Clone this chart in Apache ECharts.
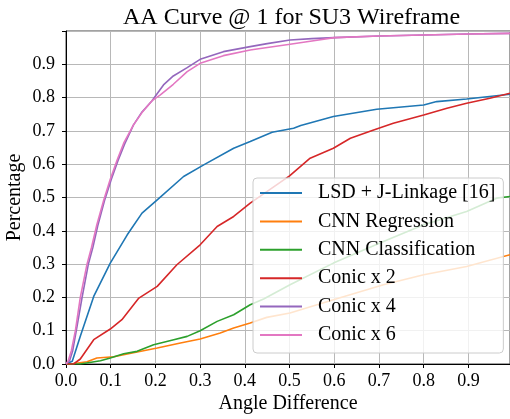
<!DOCTYPE html>
<html>
<head>
<meta charset="utf-8">
<script src="https://cdn.jsdelivr.net/npm/echarts@6/dist/echarts.min.js"></script>
<style>
html, body { margin: 0; padding: 0; background: #fff; }
#chart { width: 510px; height: 419px; }
</style>
</head>
<body>
<div id="chart"></div>
<script>
// curves, [angle difference, percentage]
const lsd = [[0, 0], [0.014, 0.008], [0.032, 0.083], [0.062, 0.203], [0.099, 0.303], [0.137, 0.388],
  [0.17, 0.453], [0.204, 0.493], [0.263, 0.563], [0.308, 0.598], [0.375, 0.648], [0.412, 0.668],
  [0.461, 0.696], [0.509, 0.708], [0.525, 0.716], [0.598, 0.743], [0.695, 0.765], [0.8, 0.778],
  [0.829, 0.788], [0.896, 0.796], [0.993, 0.81]]
const cnnReg = [[0, 0], [0.01, 0], [0.047, 0.007], [0.069, 0.018], [0.107, 0.022], [0.151, 0.034],
  [0.204, 0.048], [0.256, 0.063], [0.3, 0.075], [0.345, 0.093], [0.375, 0.108], [0.412, 0.123],
  [0.449, 0.14], [0.501, 0.153], [0.598, 0.193], [0.71, 0.238], [0.8, 0.268], [0.896, 0.293],
  [0.993, 0.328]]
const cnnCls = [[0, 0], [0.032, 0], [0.077, 0.01], [0.099, 0.018], [0.129, 0.031], [0.159, 0.038],
  [0.196, 0.058], [0.241, 0.073], [0.271, 0.083], [0.3, 0.1], [0.338, 0.128], [0.375, 0.148],
  [0.412, 0.178], [0.442, 0.195], [0.501, 0.238], [0.598, 0.303], [0.71, 0.368], [0.8, 0.418],
  [0.896, 0.458], [0.963, 0.498], [0.993, 0.503]]
const conic2 = [[0, 0], [0.017, 0], [0.032, 0.015], [0.062, 0.073], [0.099, 0.105], [0.125, 0.133],
  [0.163, 0.198], [0.204, 0.233], [0.248, 0.298], [0.3, 0.358], [0.338, 0.413], [0.375, 0.443],
  [0.412, 0.483], [0.5, 0.565], [0.546, 0.618], [0.598, 0.648], [0.636, 0.678], [0.688, 0.703],
  [0.732, 0.723], [0.8, 0.748], [0.852, 0.768], [0.896, 0.783], [0.948, 0.798], [0.993, 0.813]]
const conic4 = [[0, 0], [0.008, 0.01], [0.015, 0.04], [0.023, 0.1], [0.036, 0.2], [0.05, 0.3],
  [0.06, 0.35], [0.071, 0.415], [0.086, 0.49], [0.101, 0.553], [0.116, 0.61], [0.131, 0.66],
  [0.151, 0.718], [0.17, 0.757], [0.192, 0.79], [0.218, 0.838], [0.24, 0.865], [0.271, 0.89],
  [0.3, 0.915], [0.352, 0.938], [0.412, 0.953], [0.45, 0.962], [0.501, 0.973], [0.55, 0.977],
  [0.6, 0.98], [0.7, 0.985], [0.8, 0.988], [0.9, 0.991], [0.993, 0.993]]
const conic6 = [[0, 0], [0.005, 0.01], [0.012, 0.04], [0.021, 0.1], [0.032, 0.2], [0.047, 0.3],
  [0.057, 0.35], [0.069, 0.418], [0.084, 0.49], [0.099, 0.555], [0.115, 0.615], [0.129, 0.663],
  [0.151, 0.718], [0.17, 0.755], [0.192, 0.79], [0.211, 0.808], [0.24, 0.84], [0.271, 0.878],
  [0.3, 0.903], [0.352, 0.926], [0.412, 0.943], [0.427, 0.946], [0.501, 0.96], [0.55, 0.97],
  [0.6, 0.98], [0.7, 0.985], [0.8, 0.988], [0.9, 0.991], [0.993, 0.993]]

const names = ['LSD + J-Linkage [16]', 'CNN Regression', 'CNN Classification', 'Conic x 2', 'Conic x 4', 'Conic x 6']
const curves = [lsd, cnnReg, cnnCls, conic2, conic4, conic6]
const colors = ['#1f77b4', '#ff7f0e', '#2ca02c', '#d62728', '#9467bd', '#e377c2']

const serif = 'Liberation Serif'

let chart = echarts.init(document.getElementById('chart'))
chart.setOption({
  animation: false,
  color: colors,
  title: {
    text: 'AA Curve @ 1 for SU3 Wireframe',
    left: 118,
    top: 1,
    textStyle: { fontFamily: serif, fontSize: 24, fontWeight: 'normal', color: '#000' }
  },
  grid: {
    left: 66, right: 0, top: 31, bottom: 55,
    outerBoundsMode: 'none',
    show: true, borderColor: '#444', borderWidth: 1
  },
  legend: {
    orient: 'vertical',
    left: 253, top: 178,
    padding: [5, 8, 8, 7],
    icon: 'rect',
    itemWidth: 42, itemHeight: 2,
    itemGap: 8.4,
    backgroundColor: 'rgba(255,255,255,0.8)',
    borderColor: '#cccccc', borderWidth: 1, borderRadius: 4,
    textStyle: { fontFamily: serif, fontSize: 20, lineHeight: 20, color: '#000', padding: [0, 0, 0, 11] },
    data: names
  },
  xAxis: {
    type: 'value',
    min: 0, max: 0.993, interval: 0.1,
    name: 'Angle Difference', nameLocation: 'middle', nameGap: 30,
    nameMoveOverlap: false,
    nameTextStyle: { fontFamily: serif, fontSize: 20, color: '#000' },
    axisLine: { lineStyle: { color: '#000', width: 1 } },
    axisTick: { show: true, length: 4, lineStyle: { color: '#000' } },
    axisLabel: {
      fontFamily: serif, fontSize: 18, color: '#000', margin: 8,
      formatter: v => v > 0.95 ? '' : v.toFixed(1)
    },
    splitLine: { show: true, lineStyle: { color: '#b8b8b8', width: 1 } }
  },
  yAxis: {
    type: 'value',
    min: 0, max: 1.0, interval: 0.1,
    name: 'Percentage', nameLocation: 'middle', nameGap: 41,
    nameMoveOverlap: false,
    nameTextStyle: { fontFamily: serif, fontSize: 20, color: '#000' },
    axisLine: { show: true, lineStyle: { color: '#000', width: 1 } },
    axisTick: { show: true, length: 4, lineStyle: { color: '#000' } },
    axisLabel: {
      fontFamily: serif, fontSize: 18, color: '#000', margin: 11,
      formatter: v => v > 0.95 ? '' : v.toFixed(1)
    },
    splitLine: { show: true, lineStyle: { color: '#b8b8b8', width: 1 } }
  },
  series: curves.map((c, i) => ({
    name: names[i],
    type: 'line',
    data: c,
    symbol: 'none',
    lineStyle: { width: 1.6, color: colors[i] },
    itemStyle: { color: colors[i] }
  }))
})
</script>
</body>
</html>
